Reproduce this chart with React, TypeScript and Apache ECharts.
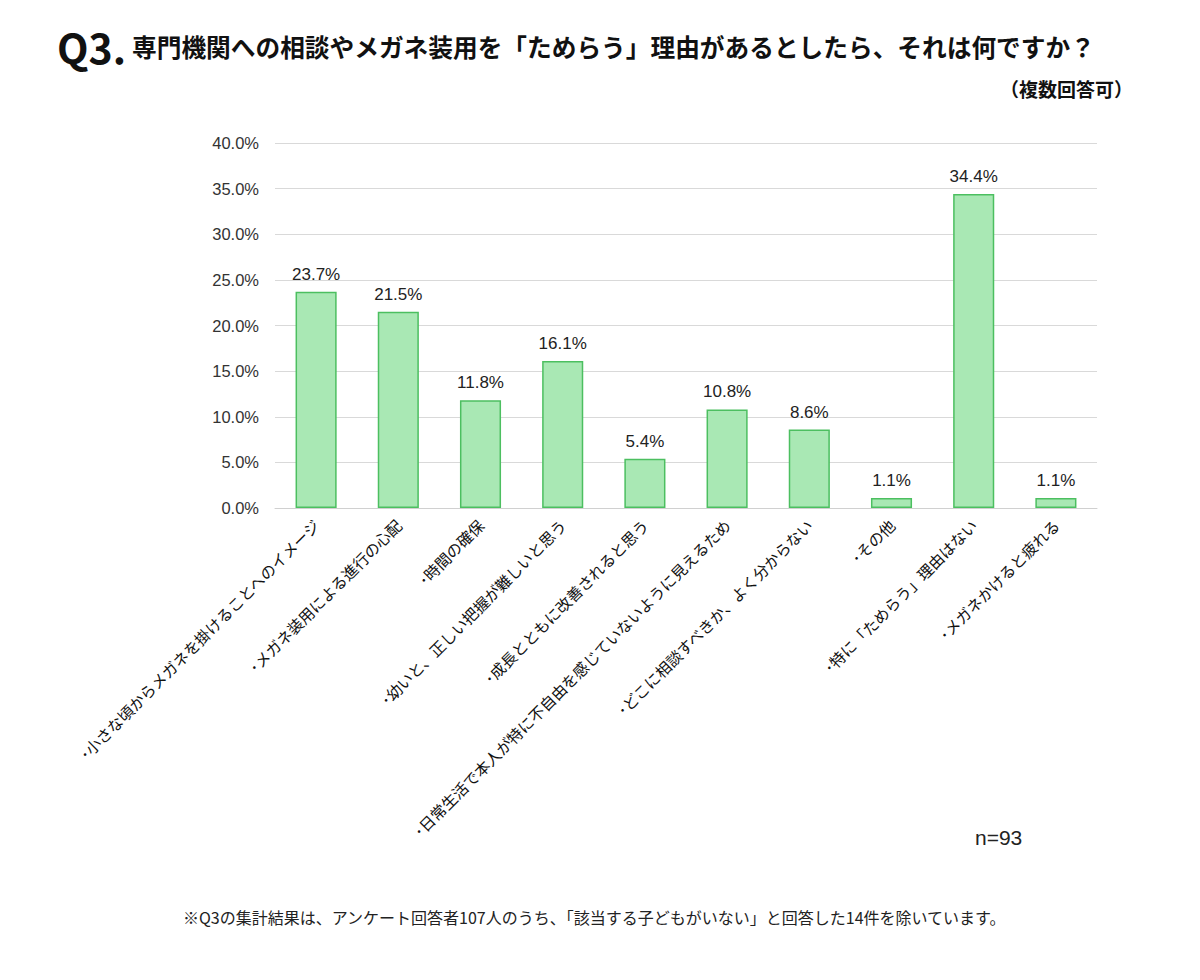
import React, { useEffect, useRef } from "react";
import * as echarts from "echarts";

const categories = [
  "･小さな頃からメガネを掛けることへのイメージ",
  "･メガネ装用による進行の心配",
  "･時間の確保",
  "･幼いと、正しい把握が難しいと思う",
  "･成長とともに改善されると思う",
  "･日常生活で本人が特に不自由を感じていないように見えるため",
  "･どこに相談すべきか、よく分からない",
  "･その他",
  "･特に「ためらう」理由はない",
  "･メガネかけると疲れる",
];
const values = [23.7, 21.5, 11.8, 16.1, 5.4, 10.8, 8.6, 1.1, 34.4, 1.1];

const titleQ = "Q3.";
const titleText = "専門機関への相談やメガネ装用を「ためらう」理由があるとしたら、それは何ですか？";
const subTitle = "（複数回答可）";
const sampleNote = "n=93";
const footNote = "※Q3の集計結果は、アンケート回答者107人のうち、「該当する子どもがいない」と回答した14件を除いています。";

const JP = '"Noto Sans CJK JP", "Noto Sans", sans-serif';
const NUM = '"Liberation Sans", Arial, sans-serif';

export default function App() {
  const ref = useRef<HTMLDivElement>(null);
  useEffect(() => {
    if (!ref.current) return;
    const chart = echarts.init(ref.current, undefined, { renderer: "svg" });
    chart.setOption({
      animation: false,
      backgroundColor: "#ffffff",
      grid: { left: 275, right: 103, top: 143, bottom: 472, containLabel: false },
      xAxis: {
        type: "category",
        data: categories,
        axisLine: { show: true, lineStyle: { color: "#d0d0d0", width: 1 } },
        axisTick: { show: false },
        axisLabel: {
          interval: 0,
          rotate: 45,
          margin: 14,
          fontSize: 15.5,
          color: "#111",
          fontFamily: JP,
        },
      },
      yAxis: {
        type: "value",
        min: 0,
        max: 40,
        interval: 5,
        axisLine: { show: false },
        axisTick: { show: false },
        axisLabel: {
          fontSize: 16.5,
          color: "#333",
          fontFamily: NUM,
          margin: 16,
          formatter: (v: number) => v.toFixed(1) + "%",
        },
        splitLine: { lineStyle: { color: "#d9d9d9", width: 1 } },
      },
      series: [
        {
          type: "bar",
          data: values,
          barWidth: "50%",
          itemStyle: { color: "#a9e8b4", borderColor: "#4cbf60", borderWidth: 1.5 },
          label: {
            show: true,
            position: "top",
            distance: 9,
            fontSize: 17,
            color: "#222",
            fontFamily: NUM,
            formatter: (p: any) => Number(p.value).toFixed(1) + "%",
          },
        },
      ],
      graphic: [
        {
          type: "text",
          left: 57,
          top: 25,
          style: { text: titleQ, font: `bold 41px ${JP}`, fill: "#111" },
        },
        {
          type: "text",
          left: 132,
          top: 34,
          style: { text: titleText, font: `bold 24.7px ${JP}`, fill: "#111" },
        },
        {
          type: "text",
          right: 67,
          top: 79,
          style: { text: subTitle, font: `bold 19px ${JP}`, fill: "#111" },
        },
        {
          type: "text",
          left: 975,
          top: 827,
          style: { text: sampleNote, font: `21px ${NUM}`, fill: "#222" },
        },
        {
          type: "text",
          left: 183,
          top: 909,
          style: { text: footNote, font: `16px ${JP}`, fill: "#222" },
        },
      ],
    });
    return () => chart.dispose();
  }, []);
  return (
    <div
      ref={ref}
      style={{ position: "absolute", left: 0, top: 0, width: 1200, height: 980 }}
    />
  );
}
